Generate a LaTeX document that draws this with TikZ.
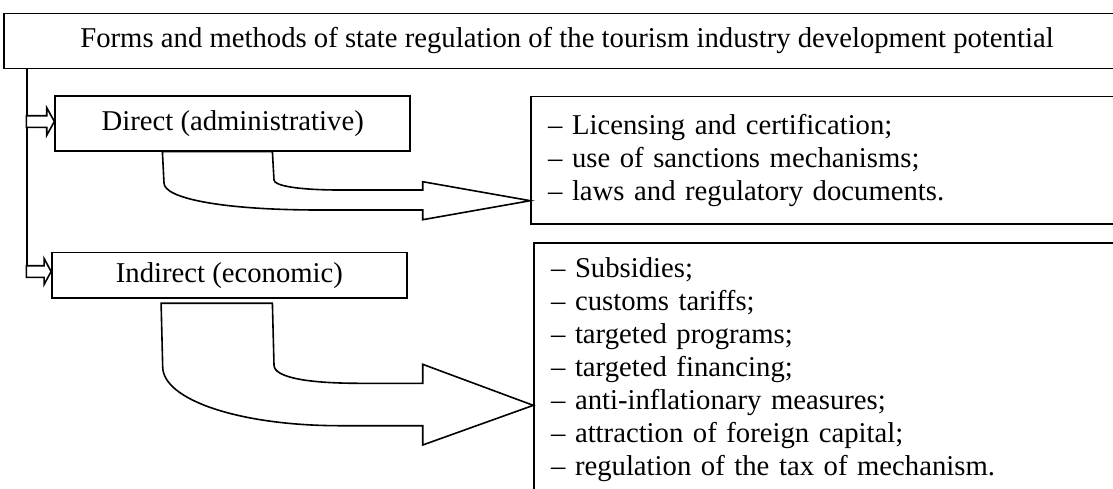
\documentclass[tikz,border=0pt]{standalone}
\usepackage{fontspec}
\setmainfont{Liberation Serif}
\usepackage{tikz}
\usetikzlibrary{positioning}
\tikzstyle{headbox} = [draw, line width=1.6pt, text centered, minimum width=1126pt, minimum height=55pt, inner sep=0pt]
\tikzstyle{methodbox} = [draw, line width=1.6pt, text centered, minimum width=355pt, inner sep=0pt]
\tikzstyle{measurebox} = [draw, line width=1.6pt, anchor=north west, align=left, text width=576pt, inner xsep=17pt, inner ysep=0pt]
\tikzstyle{arrow} = [draw, line width=1.6pt, fill=white, line join=miter]
\tikzstyle{line} = [draw, line width=1.6pt]
\newcommand{\headbox}[2]{node (h#1) [headbox] {#2}}
\newcommand{\methodbox}[3]{node (m#1) [methodbox, minimum height=#2] {#3}}
\newcommand{\measurebox}[3]{node (l#1) [measurebox, minimum height=#2] {#3}}
\begin{document}
\begin{tikzpicture}[x=1pt,y=-1pt,font=\fontsize{28.7}{33}\selectfont]
\useasboundingbox (0,0) rectangle (1113,488);
\clip (0,0) rectangle (1113,488);
\path (567,40.8) \headbox{1}{Forms and methods of state regulation of the tourism industry development potential};
\path (h1.south west)+(229.5,54.2) \methodbox{1}{55pt}{Direct (administrative)};
\path (m1)+(-3.3,152) \methodbox{2}{45.3pt}{Indirect (economic)};

\path (m1.north east)+(119.3,0.7) \measurebox{1}{127.6pt}{-- Licensing and certification;\\ -- use of sanctions mechanisms;\\ -- laws and regulatory documents.};
\path (m2.north east)+(125.6,-9.5) \measurebox{2}{252pt}{-- Subsidies;\\ -- customs tariffs;\\ -- targeted programs;\\ -- targeted financing;\\ -- anti-inflationary measures;\\ -- attraction of foreign capital;\\ -- regulation of the tax of mechanism.};

% trunk and small arrows
\path [line] ([xshift=24pt]h1.south west) |- ([yshift=3.8pt]m2.west);
\path [arrow] ([yshift=1.8pt]m1.west) -- ++(-7.7,-13.8) -- ++(0,8) -- ++(-20.3,0) -- ++(0,11.6) -- ++(20.3,0) -- ++(0,8) -- cycle;
\path [arrow] ([yshift=3.8pt]m2.west) -- ++(-7,-13) -- ++(0,7.2) -- ++(-17.7,0) -- ++(0,11.6) -- ++(17.7,0) -- ++(0,7.2) -- cycle;

% bent arrows to the lists
\path [arrow] ([xshift=108pt]m1.south west) -- (164,183) .. controls (164,198) and (220,210) .. (320,210) -- (422.7,210) -- (422.7,219.7) -- ([yshift=-105pt]l1.north west) -- (422.7,181.7) -- (422.7,190) -- (340,190) .. controls (300,190) and (274,186) .. (274,180) -- ([xshift=218pt]m1.south west) -- cycle;
\path [arrow] ([xshift=110pt,yshift=-4.5pt]m2.south west) -- (162.7,366.7) .. controls (162.7,400) and (240,425.7) .. (340,425.7) -- (422.7,425.7) -- (422.7,445) -- ([yshift=-163pt]l2.north west) -- (422.7,364.3) -- (422.7,383.3) -- (360,383.3) .. controls (310,383.3) and (274,378) .. (274,365) -- ([xshift=221.3pt,yshift=-4.5pt]m2.south west) -- cycle;
\end{tikzpicture}
\end{document}
